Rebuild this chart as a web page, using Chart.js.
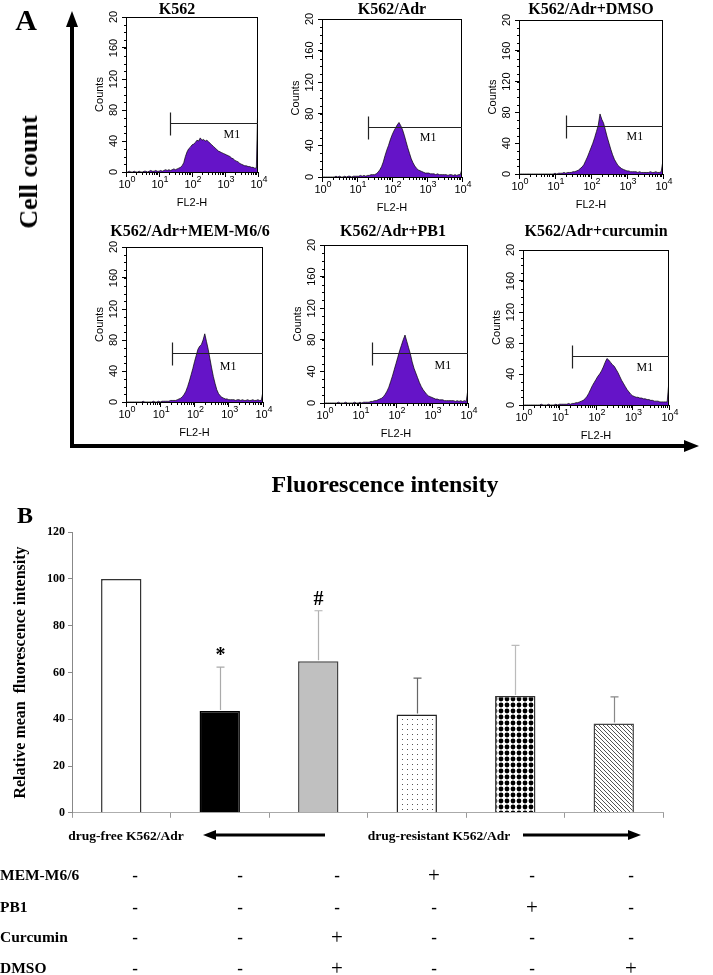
<!DOCTYPE html>
<html>
<head>
<meta charset="utf-8">
<script src="https://cdn.jsdelivr.net/npm/chart.js@4.4.0/dist/chart.umd.min.js"></script>
<style>
  body { margin: 0; background: #fff; }
  #fig { position: relative; width: 713px; height: 975px; overflow: hidden; font-family: "Liberation Serif", "Times New Roman", serif; color: #000; }
  #fig canvas { position: absolute; }
  .txt { position: absolute; white-space: pre; line-height: 1; will-change: transform; }
</style>
</head>
<body>
<div id="fig">
  <svg width="713" height="975" style="position:absolute;left:0;top:0">
    <line x1="72" y1="448" x2="72" y2="24" stroke="#000" stroke-width="4"/>
    <polygon points="72,11 66,27 78,27" fill="#000"/>
    <line x1="70" y1="446" x2="686" y2="446" stroke="#000" stroke-width="4"/>
    <polygon points="699,446 684,440 684,452" fill="#000"/>
    <line x1="214" y1="835" x2="325" y2="835" stroke="#000" stroke-width="3"/>
    <polygon points="203,835 216,830 216,840" fill="#000"/>
    <line x1="523" y1="835" x2="630" y2="835" stroke="#000" stroke-width="3"/>
    <polygon points="641,835 628,830 628,840" fill="#000"/>
  </svg>
</div>
<script>
// ---------- Panel A: flow cytometry histograms (counts per bin, bins every 0.05 decade, 10^0 .. 10^4)
const sampleNames = ["K562", "K562/Adr", "K562/Adr+DMSO", "K562/Adr+MEM-M6/6", "K562/Adr+PB1", "K562/Adr+curcumin"];

const histK562 = [
  0,0,1,0,0,1,0,0,1,0,0,1,1,0,1,2,1,1,2,1,1,
  2,1,2,3,2,3,2,3,4,3,
  4,5,6,8,12,20,26,30,32,35,
  36,38,41,40,44,41,42,40,41,39,
  37,35,33,31,29,27,26,25,24,23,
  22,21,20,18,17,15,14,13,11,10,
  9,8,8,7,7,6,6,5,5,100
];
const histAdr = [
  0,0,0,0,0,0,0,0,1,0,1,0,0,1,0,1,1,0,1,1,1,
  1,2,1,2,1,2,2,3,3,3,
  4,6,9,13,19,27,34,40,47,53,
  58,62,66,69,65,60,53,45,37,30,
  23,18,14,11,9,8,7,6,5,5,
  5,4,4,4,3,4,3,3,3,3,
  3,2,3,3,2,3,2,3,3,10
];
const histDmso = [
  0,0,0,0,0,0,0,0,0,0,0,0,0,0,0,0,0,0,0,0,1,
  0,1,1,1,2,1,2,2,2,3,
  3,4,5,7,9,12,17,22,28,34,
  40,47,55,63,78,71,66,57,48,40,
  32,25,19,15,11,9,7,6,5,4,
  4,3,3,3,3,2,3,2,2,2,
  2,2,3,2,2,3,2,2,3,18
];
const histMem = [
  0,0,0,0,0,0,0,0,0,0,1,0,0,0,0,0,1,0,0,1,0,
  1,1,1,1,1,2,2,2,2,3,
  4,5,7,10,14,20,27,35,43,52,
  60,68,72,74,80,88,78,68,56,44,
  33,24,16,11,8,6,5,4,4,3,
  3,3,3,2,3,3,2,3,2,2,
  3,2,2,3,2,2,3,2,2,14
];
const histPb1 = [
  0,0,0,0,0,0,0,0,1,0,0,0,1,0,0,0,0,1,0,0,1,
  0,1,1,1,1,2,2,3,3,4,
  5,6,8,11,15,20,27,34,42,50,
  58,66,73,80,86,78,70,62,52,44,
  38,32,26,21,17,14,11,9,8,7,
  6,5,5,4,4,4,3,3,3,3,
  3,3,2,3,2,3,2,3,2,18
];
const histCurc = [
  0,0,0,0,0,0,0,0,0,0,1,0,0,0,1,0,0,0,1,0,1,
  1,1,1,1,2,1,2,2,3,3,
  4,5,6,8,11,15,20,25,29,33,
  37,40,44,49,55,60,58,55,52,50,
  46,42,37,32,28,24,20,17,14,12,
  11,10,10,9,9,8,8,7,7,6,
  6,5,5,5,4,4,4,4,4,32
];
const histograms = [histK562, histAdr, histDmso, histMem, histPb1, histCurc];

const decadeExponents = ["0", "1", "2", "3", "4"];
const countTickValues = [0, 40, 80, 120, 160, 200];
const countTickLabels = ["0", "40", "80", "120", "160", "20"];

// M1 marker gate (log10 units / counts)
const gateStart = [1.33, 1.31, 1.31, 1.34, 1.33, 1.34];
const gateLevel = [63, 63, 62, 63, 63, 63];

// ---------- Panel B: relative mean fluorescence intensity
const groups = ["drug-free K562/Adr", "K562/Adr", "K562/Adr+curcumin", "K562/Adr+MEM-M6/6", "K562/Adr+PB1", "K562/Adr+DMSO"];
const meanMFI = [100, 43.5, 64.8, 42, 50, 38.2];
const sdMFI = [0, 18.8, 21.6, 15.6, 21.6, 11.4];
const sigMarks = ["", "*", "#", "", "", ""];

const treatments = ["MEM-M6/6", "PB1", "Curcumin", "DMSO"];
const memRow = ["-", "-", "-", "+", "-", "-"];
const pb1Row = ["-", "-", "-", "-", "+", "-"];
const curcRow = ["-", "-", "+", "-", "-", "-"];
const dmsoRow = ["-", "-", "+", "-", "-", "+"];
const treatmentRows = [memRow, pb1Row, curcRow, dmsoRow];

// ---------- layout
const fig = document.getElementById("fig");
const SANS = "'Liberation Sans', Arial, sans-serif";
const SERIF = "'Liberation Serif', 'Times New Roman', serif";
Chart.defaults.font.family = SANS;
Chart.defaults.color = "#000";

function addText(text, x, y, style, anchor) {
  const d = document.createElement("div");
  d.className = "txt";
  d.textContent = text;
  d.style.left = x + "px";
  d.style.top = y + "px";
  d.style.cssText += style;
  d.style.transform = anchor || "translate(-50%, -50%)";
  fig.appendChild(d);
  return d;
}

// plot boxes [left, top, width, height]
const histBoxes = [
  [126, 17, 132, 155], [322, 19, 140, 158], [519, 20, 144, 154],
  [126, 247, 137, 155], [324, 245, 144, 158], [523, 250, 146, 155]
];
const titlePos = [[177, 9], [392, 9], [591, 9], [190, 231], [393, 231], [596, 231]];
const m1Pos = [[3.21, 48], [3.03, 49], [3.22, 48], [2.98, 45], [3.3, 47], [3.34, 48]];

const bins = histK562.map((_, i) => i * 0.05);

const histDecor = {
  id: "histDecor",
  afterDraw(chart) {
    const i = chart.options.plugins.histDecor.index;
    const { ctx, chartArea: a, scales: { x, y } } = chart;
    ctx.save();
    ctx.strokeStyle = "#000";
    ctx.lineWidth = 1;
    ctx.strokeRect(a.left + 0.5, a.top + 0.5, a.width - 1, a.height);
    // minor log ticks
    ctx.beginPath();
    for (let d = 0; d < 4; d++) {
      for (let k = 2; k <= 9; k++) {
        const px = Math.round(x.getPixelForValue(d + Math.log10(k))) + 0.5;
        ctx.moveTo(px, a.bottom);
        ctx.lineTo(px, a.bottom + 3);
      }
    }
    for (let c = 10; c < 200; c += 10) {
      const py = Math.round(y.getPixelForValue(c)) + 0.5;
      ctx.moveTo(a.left, py);
      ctx.lineTo(a.left - 2, py);
    }
    ctx.stroke();
    ctx.fillStyle = "#000";
    // decade labels 10^k
    ctx.textBaseline = "middle";
    ctx.textAlign = "left";
    decadeExponents.forEach((e, k) => {
      ctx.font = "11px " + SANS;
      const w10 = ctx.measureText("10").width;
      ctx.font = "9px " + SANS;
      const we = ctx.measureText(e).width;
      const x0 = x.getPixelForValue(k) - (w10 + we) / 2 + 1;
      ctx.font = "11px " + SANS;
      ctx.fillText("10", x0, a.bottom + 13);
      ctx.font = "9px " + SANS;
      ctx.fillText(e, x0 + w10, a.bottom + 8);
    });
    // rotated count labels
    ctx.font = "11px " + SANS;
    ctx.textAlign = "center";
    countTickValues.forEach((v, k) => {
      ctx.save();
      ctx.translate(a.left - 12, y.getPixelForValue(v));
      ctx.rotate(-Math.PI / 2);
      ctx.fillText(countTickLabels[k], 0, 0);
      ctx.restore();
    });
    // M1 gate
    const gx0 = Math.round(x.getPixelForValue(gateStart[i])) + 0.5;
    const gx1 = x.getPixelForValue(4);
    const gy = Math.round(y.getPixelForValue(gateLevel[i])) + 0.5;
    ctx.strokeStyle = "#222";
    ctx.lineWidth = 1.2;
    ctx.beginPath();
    ctx.moveTo(gx0, gy);
    ctx.lineTo(gx1, gy);
    ctx.moveTo(gx0, gy - 11);
    ctx.lineTo(gx0, gy + 12);
    ctx.stroke();
    ctx.font = "12px " + SERIF;
    ctx.fillText("M1", x.getPixelForValue(m1Pos[i][0]), y.getPixelForValue(m1Pos[i][1]));
    ctx.restore();
  }
};

histograms.forEach((hist, i) => {
  const [L, T, W, H] = histBoxes[i];
  const padL = 34, padT = 10, padR = 14, axisH = 42;
  const cv = document.createElement("canvas");
  cv.width = W + padL + padR;
  cv.height = H + padT + axisH;
  cv.style.left = (L - padL) + "px";
  cv.style.top = (T - padT) + "px";
  fig.appendChild(cv);
  addText(sampleNames[i], titlePos[i][0], titlePos[i][1], "font-weight:bold;font-size:16px;");

  new Chart(cv, {
    type: "line",
    data: {
      datasets: [{
        data: hist.map((v, k) => ({ x: bins[k], y: v })),
        borderColor: "#000",
        borderWidth: 0.7,
        backgroundColor: "#6514c8",
        fill: "origin",
        pointRadius: 0,
        tension: 0
      }]
    },
    options: {
      responsive: false,
      animation: false,
      layout: { padding: { left: 0, top: padT, right: padR, bottom: 0 } },
      plugins: { legend: { display: false }, tooltip: { enabled: false }, histDecor: { index: i } },
      scales: {
        x: {
          type: "linear", min: 0, max: 4,
          afterFit: (s) => { s.height = axisH; },
          ticks: { stepSize: 1, display: false },
          grid: { drawOnChartArea: false, tickLength: 5, color: "#000" },
          border: { color: "#000" },
          title: { display: true, text: "FL2-H", font: { size: 11 }, padding: { top: 0, bottom: 4 } }
        },
        y: {
          min: 0, max: 200,
          afterFit: (s) => { s.width = padL; },
          ticks: { display: false, stepSize: 40 },
          grid: { drawOnChartArea: false, tickLength: 4, color: "#000" },
          border: { color: "#000" },
          title: { display: true, text: "Counts", font: { size: 11 }, padding: { top: 1, bottom: 0 } }
        }
      }
    },
    plugins: [histDecor]
  });
});

addText("A", 26, 20, "font-weight:bold;font-size:30px;");
addText("Cell count", 29, 172, "font-weight:bold;font-size:26px;", "translate(-50%, -50%) rotate(-90deg)");
addText("Fluorescence intensity", 385, 484, "font-weight:bold;font-size:24px;");

// ---------- Panel B bar chart
function makePattern(kind) {
  const c = document.createElement("canvas");
  const p = c.getContext("2d");
  if (kind === "dots") {
    c.width = 5; c.height = 5;
    p.fillStyle = "#fff"; p.fillRect(0, 0, 5, 5);
    p.fillStyle = "#555"; p.fillRect(2, 2, 1, 1);
  } else if (kind === "diamonds") {
    c.width = 6; c.height = 6;
    p.fillStyle = "#fff"; p.fillRect(0, 0, 6, 6);
    p.fillStyle = "#000";
    p.beginPath(); p.arc(3, 3, 2.4, 0, Math.PI * 2); p.fill();
  } else {
    c.width = 4; c.height = 4;
    p.fillStyle = "#fff"; p.fillRect(0, 0, 4, 4);
    p.fillStyle = "#555";
    for (let k = 0; k < 4; k++) p.fillRect(k, k, 1, 1);
  }
  return p.createPattern(c, "repeat");
}

const barFills = ["#fff", "#000", "#c0c0c0", makePattern("dots"), makePattern("diamonds"), makePattern("hatch")];
const barEdges = ["#333", "#000", "#444", "#222", "#333", "#444"];
const errColors = ["#999", "#aaa", "#b0b0b0", "#666", "#bbb", "#888"];

const errorBars = {
  id: "errorBars",
  afterDatasetsDraw(chart) {
    const { ctx, scales: { y } } = chart;
    const meta = chart.getDatasetMeta(0);
    ctx.save();
    meta.data.forEach((bar, i) => {
      if (!sdMFI[i]) return;
      const top = y.getPixelForValue(meanMFI[i] + sdMFI[i]);
      const bx = Math.round(bar.x) + 0.5;
      ctx.strokeStyle = errColors[i];
      ctx.lineWidth = 1.2;
      ctx.beginPath();
      ctx.moveTo(bx, bar.y - 1);
      ctx.lineTo(bx, top);
      ctx.moveTo(bx - 4, top);
      ctx.lineTo(bx + 4, top);
      ctx.stroke();
      if (sigMarks[i]) {
        ctx.fillStyle = "#000";
        ctx.font = "bold 20px " + SERIF;
        ctx.textAlign = "center";
        ctx.textBaseline = "alphabetic";
        ctx.fillText(sigMarks[i], bx, top - 6);
      }
    });
    ctx.restore();
  }
};

const bc = document.createElement("canvas");
bc.width = 670;
bc.height = 301;
bc.style.left = "0px";
bc.style.top = "522px";
fig.appendChild(bc);

new Chart(bc, {
  type: "bar",
  data: {
    labels: groups,
    datasets: [{
      data: meanMFI,
      backgroundColor: barFills,
      borderColor: barEdges,
      borderWidth: 1.5,
      barPercentage: 0.41,
      categoryPercentage: 1
    }]
  },
  options: {
    responsive: false,
    animation: false,
    layout: { padding: { left: 0, top: 10, right: 7, bottom: 0 } },
    plugins: { legend: { display: false }, tooltip: { enabled: false } },
    scales: {
      x: {
        afterFit: (s) => { s.height = 8; },
        ticks: { display: false },
        grid: { drawOnChartArea: false, tickLength: 5, color: "#999", offset: true },
        border: { color: "#aaa" }
      },
      y: {
        min: 0, max: 120,
        afterFit: (s) => { s.width = 72; },
        ticks: { stepSize: 20, padding: 3, font: { family: SERIF, weight: "bold", size: 12 } },
        grid: { drawOnChartArea: false, tickLength: 4, color: "#888" },
        border: { color: "#888" },
        title: {
          display: true,
          text: "Relative mean  fluorescence intensity",
          font: { family: SERIF, weight: "bold", size: 16 },
          padding: { top: 11, bottom: 0 }
        }
      }
    }
  },
  plugins: [errorBars]
});

addText("B", 25, 515, "font-weight:bold;font-size:24px;");
addText("drug-free K562/Adr", 126, 836, "font-weight:bold;font-size:13.5px;");
addText("drug-resistant K562/Adr", 439, 836, "font-weight:bold;font-size:13.5px;");

const tableCols = [135, 240, 337, 434, 532, 631];
const tableRowsY = [875, 907, 937, 968];
treatments.forEach((name, r) => {
  addText(name, 0, tableRowsY[r], "font-weight:bold;font-size:15.5px;", "translate(0, -50%)");
  treatmentRows[r].forEach((s, c) => {
    const style = s === "+" ? "font-size:21px;color:#000;" : "font-weight:bold;font-size:17px;";
    addText(s, tableCols[c], tableRowsY[r], style);
  });
});
</script>
</body>
</html>
